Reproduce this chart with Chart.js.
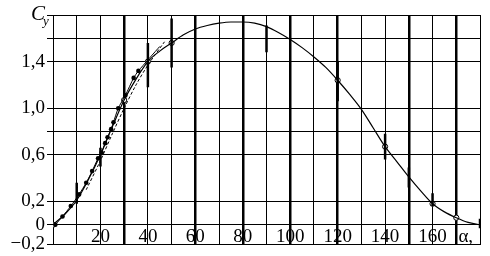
<!DOCTYPE html>
<html lang="ru">
<head>
<meta charset="UTF-8" />
<title>Cy(α)</title>
<script src="https://cdn.jsdelivr.net/npm/chart.js"></script>
<style>
  html, body { margin: 0; padding: 0; background: #fff; }
  .chart-wrapper { position: relative; width: 490px; height: 256px; }
</style>
</head>
<body>
<div class="chart-wrapper"><canvas id="cyChart"></canvas></div>
<script>
  // main smooth curve
  const alphaMain = [0, 5, 10, 15, 20, 25, 30, 35, 40, 45, 50, 55, 60, 65, 70, 75, 80, 85, 90,
                     95, 100, 105, 110, 115, 120, 125, 130, 135, 140, 145, 150, 155, 160, 165, 170, 175, 180];
  const cyMain = [0, 0.09, 0.21, 0.39, 0.60, 0.84, 1.07, 1.25, 1.40, 1.49, 1.56, 1.63, 1.68, 1.71, 1.73, 1.74, 1.74, 1.73, 1.70,
                  1.65, 1.59, 1.52, 1.44, 1.35, 1.24, 1.12, 0.99, 0.83, 0.67, 0.54, 0.41, 0.29, 0.18, 0.11, 0.06, 0.02, 0];

  // open circles on the main curve
  const circleAlpha = [0, 30, 40, 50, 120, 140, 160, 170];
  const circleCy = [0, 1.07, 1.40, 1.56, 1.24, 0.67, 0.18, 0.06];

  // filled dots (last point is the line end only)
  const dotAlpha = [1, 4, 7.5, 11, 14, 16.5, 19, 20.5, 22, 23, 24.5, 25.5, 27.5, 30.5, 34, 36, 45];
  const dotCy = [0, 0.07, 0.16, 0.26, 0.36, 0.46, 0.57, 0.62, 0.70, 0.75, 0.82, 0.88, 1.0, 1.11, 1.26, 1.32, 1.53];

  // dashed curve
  const dashAlpha = [14, 20, 25, 30, 35, 40, 47];
  const dashCy = [0.30, 0.55, 0.78, 1.0, 1.2, 1.37, 1.57];

  // scatter bars
  const errAlpha = [10, 20, 40, 50, 90, 120, 140, 150, 160, 180];
  const errLow = [0.18, 0.50, 1.18, 1.35, 1.48, 1.06, 0.56, 0.32, 0.16, -0.03];
  const errHigh = [0.36, 0.66, 1.56, 1.77, 1.71, 1.40, 0.78, 0.49, 0.27, 0.05];

  // axes
  const xGridValues = [0, 10, 20, 30, 40, 50, 60, 70, 80, 90, 100, 110, 120, 130, 140, 150, 160, 170, 180];
  const xLabelValues = [20, 40, 60, 80, 100, 120, 140, 160, 174];
  const xLabelTexts = ['20', '40', '60', '80', '100', '120', '140', '160', 'α,'];
  const yTickValues = [-0.17, 0, 0.2, 0.6, 0.8, 1.0, 1.4, 1.6, 1.8];
  const yTickLabels = ['−0,2', '0', '0,2', '0,6', '', '1,0', '1,4', '', ''];

  const pts = (xs, ys) => xs.map((x, i) => ({ x, y: ys[i] }));
  const errPts = errAlpha.flatMap((a, i) => [{ x: a, y: errLow[i] }, { x: a, y: errHigh[i] }, { x: a, y: null }]);

  const serif = 'Liberation Serif';

  const labelsPlugin = {
    id: 'bottomLabels',
    afterDraw(chart) {
      const { ctx, scales } = chart;
      ctx.save();
      ctx.fillStyle = '#000';
      ctx.font = `19px "${serif}"`;
      ctx.textAlign = 'center';
      ctx.textBaseline = 'middle';
      xLabelValues.forEach((v, i) => {
        ctx.fillText(xLabelTexts[i], scales.x.getPixelForValue(v), 237);
      });
      // C_y
      ctx.textAlign = 'left';
      ctx.textBaseline = 'alphabetic';
      ctx.font = `italic 21px "${serif}"`;
      ctx.fillText('C', 31, 20);
      ctx.font = `italic 13px "${serif}"`;
      ctx.fillText('y', 43, 25);
      ctx.restore();
    }
  };

  const thick = [30, 60, 80, 100, 120, 150, 170];

  new Chart(document.getElementById('cyChart'), {
    type: 'line',
    data: {
      datasets: [
        {
          data: pts(alphaMain, cyMain),
          borderColor: '#000', borderWidth: 1.2, pointRadius: 0,
          cubicInterpolationMode: 'monotone', fill: false
        },
        {
          data: pts(dotAlpha, dotCy),
          borderColor: '#000', borderWidth: 1, backgroundColor: '#000',
          pointRadius: ctx => ctx.dataIndex < dotAlpha.length - 1 ? 2.3 : 0,
          pointBorderWidth: 0, tension: 0.2, fill: false
        },
        {
          data: pts(dashAlpha, dashCy),
          borderColor: '#000', borderWidth: 1, borderDash: [3, 2],
          pointRadius: 0, tension: 0.3, fill: false
        },
        {
          data: errPts,
          borderColor: '#000', borderWidth: 2.5, pointRadius: 0, spanGaps: false, fill: false
        },
        {
          data: pts(circleAlpha, circleCy),
          showLine: false, pointRadius: 2.6, pointBorderWidth: 1,
          pointBorderColor: '#000', pointBackgroundColor: '#fff'
        }
      ]
    },
    options: {
      responsive: true,
      maintainAspectRatio: false,
      animation: false,
      layout: { padding: { top: 15, right: 10, bottom: 10, left: 0 } },
      plugins: { legend: { display: false }, tooltip: { enabled: false } },
      scales: {
        x: {
          type: 'linear', min: 0, max: 180,
          afterBuildTicks: s => { s.ticks = xGridValues.map(v => ({ value: v })); },
          ticks: { display: false },
          grid: {
            color: '#000', drawTicks: false,
            lineWidth: c => thick.includes(c.tick && c.tick.value) ? 2.5 : 1
          },
          border: { color: '#000', width: 1 }
        },
        y: {
          min: -0.17, max: 1.8,
          afterBuildTicks: s => { s.ticks = yTickValues.map(v => ({ value: v })); },
          afterFit: s => { s.width = 53; },
          ticks: {
            callback: (v, i) => yTickLabels[i],
            color: '#000', padding: 2,
            font: { family: serif, size: 19, lineHeight: 1 }
          },
          grid: { color: '#000', lineWidth: 1, tickLength: 6 },
          border: { color: '#000', width: 1 }
        }
      }
    },
    plugins: [labelsPlugin]
  });
</script>
</body>
</html>
